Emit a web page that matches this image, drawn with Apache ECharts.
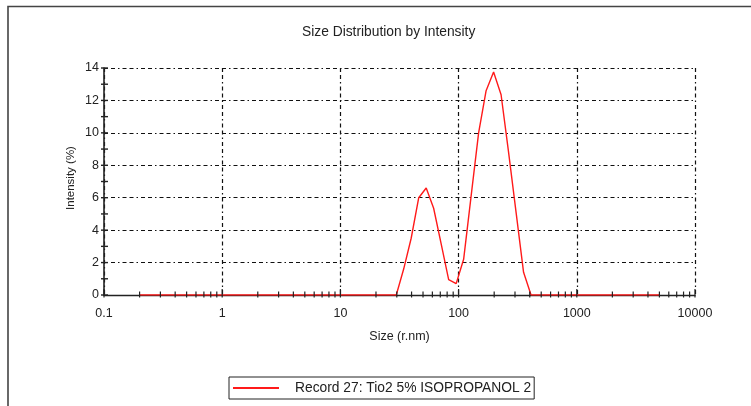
<!DOCTYPE html>
<html>
<head>
<meta charset="utf-8">
<script src="https://cdn.jsdelivr.net/npm/echarts@6/dist/echarts.min.js"></script>
<style>
html,body{margin:0;padding:0;background:#fff;}
#c{width:751px;height:406px;}
</style>
</head>
<body>
<div id="c"></div>
<script>
// ---- data ----
const sizes = [0.2, 29.7, 34.3, 39.7, 46.0, 53.2, 61.5, 71.2, 82.4, 95.4, 110.3, 127.6, 147.7, 170.9, 197.7, 228.8, 264.8, 306.4, 354.5, 410.2, 5000];
const intensity = [0, 0, 1.6, 3.5, 6.0, 6.6, 5.35, 3.15, 0.95, 0.7, 2.2, 6.1, 10.0, 12.6, 13.75, 12.35, 8.8, 5.1, 1.4, 0, 0];
const seriesName = 'Record 27: Tio2 5% ISOPROPANOL 2';
const xTickLabels = ['0.1', '1', '10', '100', '1000', '10000'];
const decades = [0.1, 1, 10, 100, 1000, 10000];
const minorMultipliers = [2, 3, 4, 5, 6, 7, 8, 9];
const yTickValues = [0,1,2,3,4,5,6,7,8,9,10,11,12,13,14];

const FONT = 'Liberation Sans, Arial, sans-serif';
const lineData = sizes.map((s, i) => [s, intensity[i]]);

const xMinor = [];
decades.slice(0, -1).forEach(d => minorMultipliers.forEach(m => xMinor.push([+(d * m).toPrecision(3), 0, 0])));
decades.forEach(d => xMinor.push([d, 0, 1]));
const yTicks = yTickValues.map(v => [0.1, v]);

const dash = [4, 3, 4, 3, 1.5, 3];

const chart = echarts.init(document.getElementById('c'), null, {renderer: 'canvas'});
chart.setOption({
  backgroundColor: '#fff',
  animation: false,
  title: {
    text: 'Size Distribution by Intensity',
    left: 297, top: 20,
    textStyle: {fontFamily: FONT, fontSize: 13.8, fontWeight: 'normal', color: '#222'}
  },
  grid: {left: 104, right: 56, top: 68, bottom: 111},
  legend: {
    data: [seriesName],
    left: 229, top: 377,
    itemWidth: 46, itemHeight: 2,
    padding: [4, 3, 4, 3],
    borderColor: '#222', borderWidth: 1,
    textStyle: {fontFamily: FONT, fontSize: 13.8, color: '#222', padding: [0, 0, 0, 11]}
  },
  xAxis: {
    type: 'log', logBase: 10, min: 0.1, max: 10000,
    name: 'Size (r.nm)', nameLocation: 'middle', nameGap: 35,
    nameTextStyle: {fontFamily: FONT, fontSize: 12.5, color: '#222'},
    axisLine: {show: true, onZero: false, lineStyle: {color: '#222', width: 1.3}},
    axisTick: {show: false},
    axisLabel: {
      fontFamily: FONT, fontSize: 12.5, color: '#222', margin: 12,
      formatter: (v) => xTickLabels[Math.round(Math.log10(v)) + 1]
    },
    splitLine: {show: true, lineStyle: {color: '#111', width: 1.2, type: dash}}
  },
  yAxis: {
    type: 'value', min: 0, max: 14, interval: 2,
    axisLine: {show: true, lineStyle: {color: '#222', width: 1.6}},
    axisTick: {show: false},
    axisLabel: {fontFamily: FONT, fontSize: 12.5, color: '#222', margin: 5},
    splitLine: {show: true, lineStyle: {color: '#111', width: 1.2, type: dash}}
  },
  graphic: [{
    type: 'polyline',
    shape: {points: [[8, 420], [8, 6.5], [760, 6.5]]},
    style: {stroke: '#444', lineWidth: 1.6, fill: null}
  }, {
    type: 'text', x: 71, y: 178, rotation: Math.PI / 2,
    style: {text: 'Intensity (%)', fontFamily: FONT, fontSize: 11.5, fill: '#222',
            align: 'center', verticalAlign: 'middle'}
  }],
  series: [
    {
      name: seriesName, type: 'line', data: lineData,
      symbol: 'none', smooth: false,
      lineStyle: {color: '#ff1a1a', width: 1.4},
      itemStyle: {color: '#ff1a1a'},
      z: 5
    },
    {
      name: 'xticks', type: 'custom', data: xMinor, clip: false, silent: true, z: 6,
      encode: {x: 0, y: 1},
      renderItem: (params, api) => {
        const p = api.coord([api.value(0), 0]);
        const major = api.value(2) === 1;
        return {type: 'line', shape: {x1: p[0], y1: p[1] - (major ? 6 : 3.5), x2: p[0], y2: p[1] + 2.5},
                style: {stroke: '#222', lineWidth: 1.2}};
      }
    },
    {
      name: 'yticks', type: 'custom', data: yTicks, clip: false, silent: true, z: 6,
      encode: {x: 0, y: 1},
      renderItem: (params, api) => {
        const p = api.coord([api.value(0), api.value(1)]);
        return {type: 'line', shape: {x1: p[0] - 3, y1: p[1], x2: p[0] + 4, y2: p[1]},
                style: {stroke: '#222', lineWidth: 1.4}};
      }
    }
  ]
});
</script>
</body>
</html>
